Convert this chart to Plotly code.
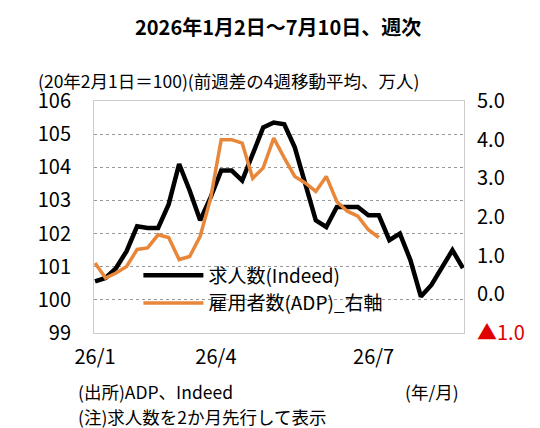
import plotly.graph_objects as go

jobs = [100.56,100.66,100.96,101.47,102.22,102.17,102.17,102.88,104.1,103.3,102.4,103.1,103.9,103.9,103.6,104.4,105.2,105.35,105.3,104.6,103.5,102.4,102.2,102.8,102.8,102.8,102.55,102.55,101.8,102.0,101.2,100.1,100.45,100.95,101.5,100.96]
adp = [0.81,0.42,0.55,0.72,1.16,1.2,1.54,1.47,0.9,0.98,1.5,2.49,4.0,4.0,3.91,3.0,3.27,4.04,3.53,3.05,2.88,2.66,3.05,2.4,2.15,2.02,1.67,1.47]
x_tick_pos = [0, 11.5, 26.5]
x_tick_text = ["26/1", "26/4", "26/7"]
left_ticks = [99,100,101,102,103,104,105,106]
right_ticks = [-1,0,1,2,3,4,5]
right_text = ["<span style='color:#e00000'>▲1.0</span>","0.0","1.0","2.0","3.0","4.0","5.0"]

F = "Noto Sans CJK JP"
L, R, T, B = 86, 84, 93, 103
W, H = 540, 428
fig = go.Figure()
fig.add_trace(go.Scatter(x=list(range(len(jobs))), y=jobs, mode="lines", name="求人数(Indeed)",
                         line=dict(color="black", width=4.5)))
fig.add_trace(go.Scatter(x=list(range(len(adp))), y=adp, mode="lines", name="雇用者数(ADP)_右軸",
                         line=dict(color="#E8873A", width=3.5), yaxis="y2"))
fig.update_layout(
    width=W, height=H, margin=dict(l=L, r=R, t=T, b=B),
    paper_bgcolor="white", plot_bgcolor="white",
    font=dict(family=F, size=20, color="black"),
    showlegend=True,
    legend=dict(x=0.12, y=0.33, xanchor="left", yanchor="top", bgcolor="rgba(0,0,0,0)",
                font=dict(size=19), tracegroupgap=0, itemwidth=60),
    xaxis=dict(range=[-0.1, 35.1], tickvals=x_tick_pos, ticktext=x_tick_text, showgrid=False,
               showline=True, linecolor="#cccccc", mirror=True, ticks="", zeroline=False,
               ticklabelstandoff=6),
    yaxis=dict(range=[99, 106], tickvals=left_ticks, showgrid=True, gridcolor="#999999", gridwidth=1,
               griddash="dot", showline=True, linecolor="#cccccc", mirror=True, zeroline=False, ticks="",
               ticklabelstandoff=18),
    yaxis2=dict(range=[-1, 5], tickvals=right_ticks, ticktext=right_text, overlaying="y", side="right",
                showgrid=False, zeroline=False, ticks="", ticklabelstandoff=12),
)
anns = [
    ("<b>2026年1月2日～7月10日、週次</b>", 270, 18, 20, "center"),
    ("(20年2月1日＝100)(前週差の4週移動平均、万人)", 28, 73, 17.5, "left"),
    ("(出所)ADP、Indeed", 68, 383, 17.5, "left"),
    ("(注)求人数を2か月先行して表示", 68, 408, 17.5, "left"),
    ("(年/月)", 395, 383, 17.5, "left"),
]
for t, px, py, s, al in anns:
    fig.add_annotation(text=t, x=(px-L)/(W-L-R), y=(H-py-B)/(H-T-B), xref="paper", yref="paper",
                       showarrow=False, xanchor=al, yanchor="middle", font=dict(size=s))
fig.write_html("out.html")
